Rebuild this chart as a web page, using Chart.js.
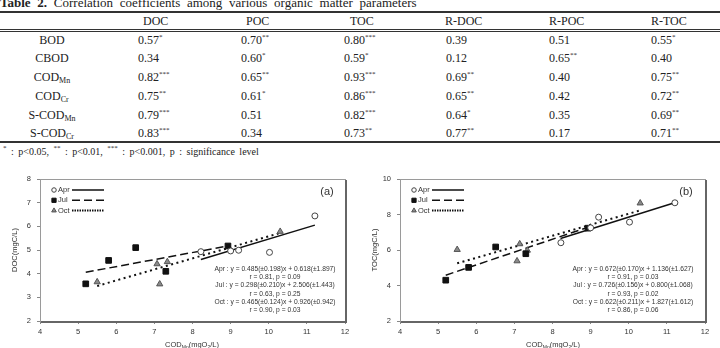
<!DOCTYPE html>
<html lang="en">
<head>
<meta charset="utf-8">
<script src="https://cdn.jsdelivr.net/npm/chart.js@4.4.0/dist/chart.umd.min.js"></script>
<style>
  html, body { margin: 0; padding: 0; background: #fff; }
  #lienzo { position: relative; width: 720px; height: 348px; overflow: hidden; }
  .serif { font-family: "Liberation Serif", "Times New Roman", serif; color: #222; }
  .t { position: absolute; white-space: nowrap; line-height: 12px; font-size: 12px; }
  .t sup { font-size: 7px; vertical-align: 5px; line-height: 0; }
  .t sub { font-size: 8px; vertical-align: -2px; line-height: 0; }
  .regla { position: absolute; left: 0; width: 720px; background: #333; }
  .grafico { position: absolute; top: 168px; width: 360px; height: 180px; }
  .sans { font-family: "Liberation Sans", Arial, sans-serif; color: #333; }
  .nota { position: absolute; text-align: center; font-size: 6.7px; line-height: 8.2px; white-space: nowrap; transform: translateX(-50%); }
  .tituloX { position: absolute; font-size: 7.5px; line-height: 9px; white-space: nowrap; transform: translateX(-50%); }
  .tituloX sub { font-size: 5px; vertical-align: -2px; line-height: 0; }
  .panel { position: absolute; font-size: 11px; line-height: 12px; transform: translateX(-50%); }
</style>
</head>
<body>
<div id="lienzo">
  <div id="tabla" class="serif"></div>
  <div class="grafico" style="left:0"><canvas id="graficoDOC" width="360" height="180"></canvas></div>
  <div class="grafico" style="left:360px"><canvas id="graficoTOC" width="360" height="180"></canvas></div>
  <div id="textos" class="sans"></div>
</div>
<script>
// --- Tabla 2: coeficientes de correlación ---
const parametros = ['BOD', 'CBOD', 'COD', 'COD', 'S-COD', 'S-COD'];
const subindices = ['', '', 'Mn', 'Cr', 'Mn', 'Cr'];
const columnas = ['DOC', 'POC', 'TOC', 'R-DOC', 'R-POC', 'R-TOC'];

const valoresDOC = [0.57, 0.34, 0.82, 0.75, 0.79, 0.83];
const signifDOC = ['*', '', '***', '**', '***', '***'];
const valoresPOC = [0.70, 0.60, 0.65, 0.61, 0.51, 0.34];
const signifPOC = ['**', '*', '**', '*', '', ''];
const valoresTOC = [0.80, 0.59, 0.93, 0.86, 0.82, 0.73];
const signifTOC = ['***', '*', '***', '***', '***', '**'];
const valoresRDOC = [0.39, 0.12, 0.69, 0.65, 0.64, 0.77];
const signifRDOC = ['', '', '**', '**', '*', '**'];
const valoresRPOC = [0.51, 0.65, 0.40, 0.42, 0.35, 0.17];
const signifRPOC = ['', '**', '', '', '', ''];
const valoresRTOC = [0.55, 0.40, 0.75, 0.72, 0.69, 0.71];
const signifRTOC = ['*', '', '**', '**', '**', '**'];

// --- Figura: COD_Mn frente a DOC (a) y TOC (b) ---
const meses = ['Apr', 'Jul', 'Oct'];
const codAbr = [8.22, 9.00, 9.21, 10.02, 11.21];
const codJul = [5.20, 5.80, 6.51, 7.30, 8.93];
const codOct = [5.50, 7.07, 7.14, 7.34, 10.30];

const docAbr = [4.93, 4.96, 4.99, 4.90, 6.44];
const docJul = [3.57, 4.56, 5.10, 4.10, 5.17];
const docOct = [3.65, 4.41, 3.56, 4.50, 5.78];

const tocAbr = [6.41, 7.25, 7.85, 7.57, 8.66];
const tocJul = [4.30, 5.02, 6.17, 5.79, 7.23];
const tocOct = [6.02, 5.38, 6.34, 5.98, 8.64];

// Extremos de las rectas de regresión
const rectaDocAbr = [[8.22, 4.60], [11.21, 6.05]];
const rectaDocJul = [[5.20, 4.06], [8.93, 5.17]];
const rectaDocOct = [[5.50, 3.48], [10.30, 5.72]];
const rectaTocAbr = [[8.21, 6.65], [11.18, 8.65]];
const rectaTocJul = [[5.20, 4.58], [8.93, 7.28]];
const rectaTocOct = [[5.50, 5.25], [10.30, 8.23]];

const ecuacionesDOC = [
    'Apr : y = 0.485(±0.198)x + 0.618(±1.897)', 'r = 0.81, p = 0.09',
    'Jul : y = 0.298(±0.210)x + 2.506(±1.443)', 'r = 0.63, p = 0.25',
    'Oct : y = 0.465(±0.124)x + 0.926(±0.942)', 'r = 0.90, p = 0.03'
];
const ecuacionesTOC = [
    'Apr : y = 0.672(±0.170)x + 1.136(±1.627)', 'r = 0.91, p = 0.03',
    'Jul : y = 0.726(±0.156)x + 0.800(±1.068)', 'r = 0.93, p = 0.02',
    'Oct : y = 0.622(±0.211)x + 1.827(±1.612)', 'r = 0.86, p = 0.06'
];

// Función para montar la tabla con texto HTML
function mostrarTabla() {
    const tabla = document.getElementById('tabla');
    const valores = [valoresDOC, valoresPOC, valoresTOC, valoresRDOC, valoresRPOC, valoresRTOC];
    const signif = [signifDOC, signifPOC, signifTOC, signifRDOC, signifRPOC, signifRTOC];
    const xValores = [138, 241, 344, 446, 549, 651];
    const xCabecera = [143, 246, 350, 445, 549, 651];
    const yFilas = [40, 58.3, 77.3, 96.5, 115, 133.3];
    let html = '';

    html += '<div class="t" style="left:0;top:-4px;font-size:13px;line-height:13px;word-spacing:3.5px">' +
        '<b>Table&nbsp;2.</b> Correlation coefficients among various organic matter parameters</div>';
    html += '<div class="regla" style="top:11px;height:1.5px"></div>';
    html += '<div class="regla" style="top:29px;height:1px"></div>';
    html += '<div class="regla" style="top:31.3px;height:1px"></div>';
    html += '<div class="regla" style="top:141px;height:1.5px"></div>';

    columnas.forEach((col, j) => {
        html += `<div class="t" style="left:${xCabecera[j]}px;top:15px">${col}</div>`;
    });
    parametros.forEach((par, i) => {
        const sub = subindices[i] ? `<sub>${subindices[i]}</sub>` : '';
        html += `<div class="t" style="left:52px;top:${yFilas[i] - 6.5}px;transform:translateX(-50%)">${par}${sub}</div>`;
        valores.forEach((serie, j) => {
            const sup = signif[j][i] ? `<sup>${signif[j][i]}</sup>` : '';
            html += `<div class="t" style="left:${xValores[j]}px;top:${yFilas[i] - 6.5}px">${serie[i].toFixed(2)}${sup}</div>`;
        });
    });
    html += '<div class="t" style="left:3px;top:146px;font-size:10px;word-spacing:2px">' +
        '<sup>*</sup> : p&lt;0.05, <sup>**</sup> : p&lt;0.01, <sup>***</sup> : p&lt;0.001, p : significance level</div>';
    tabla.innerHTML = html;
}

// Textos de la figura (títulos X, etiquetas de panel, ecuaciones)
function mostrarTextos() {
    const cont = document.getElementById('textos');
    let html = '';
    [[192, '(a)', 327, ecuacionesDOC, 275], [553, '(b)', 686, ecuacionesTOC, 633]].forEach(([xt, panel, xp, ecs, xe]) => {
        html += `<div class="tituloX" style="left:${xt}px;top:340px">COD<sub>Mn</sub>(mgO<sub>2</sub>/L)</div>`;
        html += `<div class="panel" style="left:${xp}px;top:185px">${panel}</div>`;
        html += `<div class="nota" style="left:${xe}px;top:265px">${ecs.join('<br>')}</div>`;
    });
    cont.innerHTML = html;
}

const aPuntos = (xs, ys) => xs.map((x, i) => ({ x, y: ys[i] }));
const aRecta = (r) => r.map(([x, y]) => ({ x, y }));

// Borde del área de trazado, con la sombra gris a la derecha y abajo
const marcoArea = {
    id: 'marcoArea',
    afterDraw(chart) {
        const { ctx, chartArea: { left, top, right, bottom } } = chart;
        ctx.save();
        ctx.strokeStyle = '#9a9a9a';
        ctx.lineWidth = 1;
        ctx.strokeRect(left + 0.5, top + 0.5, right - left, bottom - top);
        ctx.strokeStyle = '#666';
        ctx.lineWidth = 2;
        ctx.beginPath();
        ctx.moveTo(right + 1, top + 1);
        ctx.lineTo(right + 1, bottom + 1);
        ctx.lineTo(left + 1, bottom + 1);
        ctx.stroke();
        ctx.restore();
    }
};

// Leyenda: marcador, texto y muestra de la línea
const leyendaPropia = {
    id: 'leyendaPropia',
    afterDatasetsDraw(chart) {
        const { ctx, chartArea: { left, top } } = chart;
        const ds = chart.data.datasets;
        ctx.save();
        ctx.font = '7.5px "Liberation Sans", Arial, sans-serif';
        ctx.textBaseline = 'middle';
        for (let i = 0; i < 3; i++) {
            const y = top + 11 + i * 10.3;
            const x = left + 14;
            const p = ds[i];
            ctx.fillStyle = p.backgroundColor;
            ctx.strokeStyle = p.borderColor;
            ctx.lineWidth = p.borderWidth;
            Chart.helpers.drawPoint(ctx, { pointStyle: p.pointStyle, radius: p.pointRadius * 0.75, rotation: 0, borderWidth: p.borderWidth }, x, y);
            ctx.fillStyle = '#333';
            ctx.fillText(p.label, x + 4, y);
            const l = ds[i + 3];
            ctx.strokeStyle = l.borderColor;
            ctx.lineWidth = l.borderWidth;
            ctx.setLineDash(l.leyendaDash || l.borderDash || []);
            ctx.beginPath();
            ctx.moveTo(x + 18, y);
            ctx.lineTo(x + 50, y);
            ctx.stroke();
            ctx.setLineDash([]);
        }
        ctx.restore();
    }
};

function crearDispersion(idCanvas, tituloY, yMin, yMax, yPaso, puntos, rectas) {
    const fuente = { family: '"Liberation Sans", Arial, sans-serif', size: 7.5 };
    const ctx = document.getElementById(idCanvas).getContext('2d');
    new Chart(ctx, {
        type: 'scatter',
        data: {
            datasets: [
                { label: meses[0], data: puntos[0], pointStyle: 'circle', pointRadius: 3, backgroundColor: '#fff', borderColor: '#444', borderWidth: 1, order: 1 },
                { label: meses[1], data: puntos[1], pointStyle: 'rect', pointRadius: 4, backgroundColor: '#111', borderColor: '#111', borderWidth: 1, order: 1 },
                { label: meses[2], data: puntos[2], pointStyle: 'triangle', pointRadius: 3.6, backgroundColor: '#8a8a8a', borderColor: '#555', borderWidth: 1, order: 1 },
                { label: meses[0] + ' fit', data: rectas[0], showLine: true, pointRadius: 0, borderColor: '#111', borderWidth: 1.5, borderDash: [], order: 2 },
                { label: meses[1] + ' fit', data: rectas[1], showLine: true, pointRadius: 0, borderColor: '#111', borderWidth: 1.5, borderDash: [8, 4], order: 2 },
                { label: meses[2] + ' fit', data: rectas[2], showLine: true, pointRadius: 0, borderColor: '#111', borderWidth: 2, borderDash: [2, 3.5], leyendaDash: [1.5, 1], order: 2 }
            ]
        },
        options: {
            responsive: false,
            animation: false,
            devicePixelRatio: 1,
            layout: { padding: { top: 11, right: 15, left: 0, bottom: 0 } },
            plugins: { legend: { display: false }, tooltip: { enabled: false } },
            scales: {
                x: {
                    type: 'linear', min: 4, max: 12,
                    ticks: { stepSize: 1, color: '#333', font: fuente, padding: 3 },
                    grid: { drawOnChartArea: false, tickLength: 3, color: '#888' },
                    border: { color: '#888' },
                    afterFit: (s) => { s.height = 27; }
                },
                y: {
                    min: yMin, max: yMax,
                    ticks: { stepSize: yPaso, color: '#333', font: fuente, padding: 6 },
                    grid: { drawOnChartArea: false, tickLength: 3, color: '#888' },
                    border: { color: '#888' },
                    title: { display: true, text: tituloY, color: '#333', font: fuente, padding: { top: 10, bottom: 0 } },
                    afterFit: (s) => { s.width = 40; }
                }
            }
        },
        plugins: [marcoArea, leyendaPropia]
    });
}

document.addEventListener('DOMContentLoaded', () => {
    mostrarTabla();
    mostrarTextos();
    crearDispersion('graficoDOC', 'DOC(mgC/L)', 2, 8, 1,
        [aPuntos(codAbr, docAbr), aPuntos(codJul, docJul), aPuntos(codOct, docOct)],
        [aRecta(rectaDocAbr), aRecta(rectaDocJul), aRecta(rectaDocOct)]);
    crearDispersion('graficoTOC', 'TOC(mgC/L)', 2, 10, 2,
        [aPuntos(codAbr, tocAbr), aPuntos(codJul, tocJul), aPuntos(codOct, tocOct)],
        [aRecta(rectaTocAbr), aRecta(rectaTocJul), aRecta(rectaTocOct)]);
});
</script>
</body>
</html>
